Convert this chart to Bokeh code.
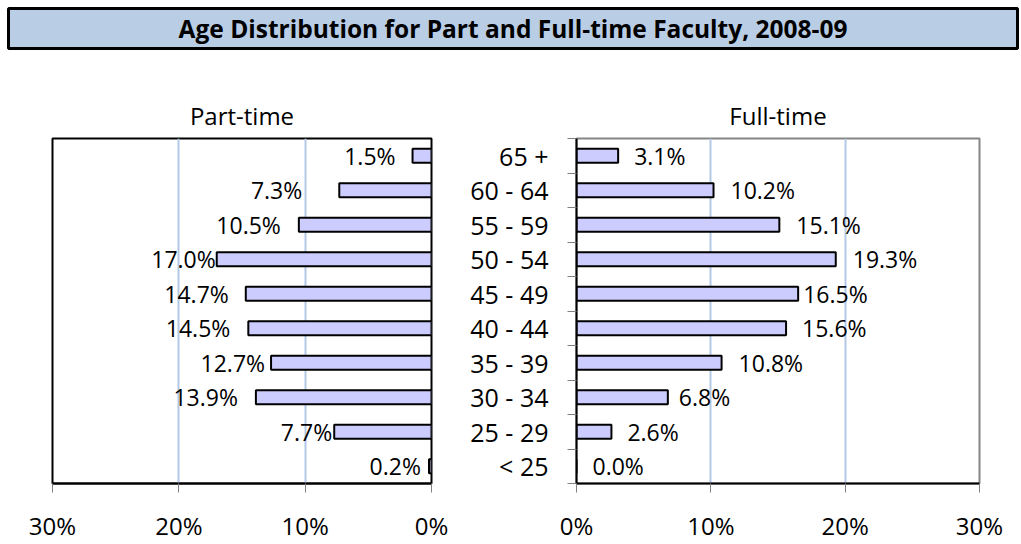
from bokeh.plotting import figure
from bokeh.layouts import column, row
from bokeh.models import Range1d, FixedTicker, PrintfTickFormatter, ColumnDataSource
from bokeh.core.properties import value
from bokeh.embed import file_html
from bokeh.resources import INLINE

# ---------------- data ----------------
title_text = "Age Distribution for Part and Full-time Faculty, 2008-09"
age_groups = ["65 +", "60 - 64", "55 - 59", "50 - 54", "45 - 49",
              "40 - 44", "35 - 39", "30 - 34", "25 - 29", "< 25"]
part_time = [1.5, 7.3, 10.5, 17.0, 14.7, 14.5, 12.7, 13.9, 7.7, 0.2]
full_time = [3.1, 10.2, 15.1, 19.3, 16.5, 15.6, 10.8, 6.8, 2.6, 0.0]
x_ticks = [0, 10, 20, 30]
grid_ticks = [10, 20]

# ---------------- styling ----------------
part_gap = [17, 37, 18, 1, 17, 18, 6, 18, 2, 8]     # label gaps (px)
full_gap = [16, 17, 17, 17, 5, 16, 17, 11, 16, 16]
FONT = value("Open Sans")
BAR_FILL = "#CCCCFF"
GRID = "#B3C8E6"

n = len(age_groups)
pos = [n - i - 0.5 for i in range(n)]
bounds = list(range(n + 1))

def pct(v):
    return "%.1f%%" % v

part_src = ColumnDataSource(dict(y=pos, v=part_time, lab=[pct(v) for v in part_time],
                                 off=[-g for g in part_gap]))
full_src = ColumnDataSource(dict(y=pos, v=full_time, lab=[pct(v) for v in full_time],
                                 off=full_gap))

# ---------------- title box ----------------
tp = figure(width=1021, height=54, x_range=Range1d(0, 1), y_range=Range1d(0, 1),
            x_axis_location=None, y_axis_location=None,
            toolbar_location=None, output_backend="svg",
            min_border_left=8, min_border_right=4, min_border_top=8, min_border_bottom=6)
tp.grid.visible = False
tp.background_fill_color = "#B9CDE5"
tp.border_fill_color = "white"
tp.outline_line_color = "black"
tp.outline_line_width = 3
tp.text(x=[0.5], y=[0.5], text=[title_text], text_align="center", text_baseline="middle",
        text_font=FONT, text_font_style="bold", text_font_size="24.5px", text_color="black")

def style_common(p):
    p.title.align = "center"
    p.title.text_font = "Open Sans"
    p.title.text_font_style = "normal"
    p.title.text_font_size = "24px"
    p.title.text_color = "black"
    p.title.standoff = 13
    p.ygrid.visible = False
    p.xgrid.ticker = FixedTicker(ticks=grid_ticks)
    p.xgrid.grid_line_color = GRID
    p.xgrid.grid_line_width = 2
    p.xaxis.ticker = FixedTicker(ticks=x_ticks)
    p.xaxis.formatter = PrintfTickFormatter(format="%d%%")
    p.xaxis.major_tick_in = 0
    p.xaxis.major_tick_out = 9
    p.xaxis.major_tick_line_color = "#808080"
    p.xaxis.axis_line_color = "black"
    p.xaxis.axis_line_width = 2
    p.xaxis.major_label_text_font = "Open Sans"
    p.xaxis.major_label_text_font_size = "24px"
    p.xaxis.major_label_text_color = "black"
    p.xaxis.major_label_standoff = 16
    p.border_fill_color = "white"

# ---------------- Part-time ----------------
lp = figure(width=455, height=490, x_range=Range1d(30, 0), y_range=Range1d(0, n),
            y_axis_location=None, toolbar_location=None, output_backend="svg",
            min_border_left=52, min_border_right=24, min_border_top=84, min_border_bottom=56,
            title="Part-time")
style_common(lp)
lp.outline_line_color = "black"
lp.outline_line_width = 2
lp.hbar(y="y", left=0, right="v", height=0.4, source=part_src,
        fill_color=BAR_FILL, line_color="black", line_width=2)
lp.text(x="v", y="y", text="lab", x_offset="off", source=part_src,
        text_align="right", text_baseline="middle", text_font=FONT,
        text_font_size="23px", text_color="black")

# ---------------- Full-time ----------------
rp = figure(width=566, height=490, x_range=Range1d(0, 30), y_range=Range1d(0, n),
            toolbar_location=None, output_backend="svg",
            min_border_left=121, min_border_right=42, min_border_top=82, min_border_bottom=61,
            title="Full-time")
style_common(rp)
rp.outline_line_color = "#868686"
rp.outline_line_width = 2
rp.yaxis.ticker = FixedTicker(ticks=pos, minor_ticks=bounds)
rp.yaxis.major_label_overrides = {p_: g for p_, g in zip(pos, age_groups)}
rp.yaxis.major_tick_in = 0
rp.yaxis.major_tick_out = 0
rp.yaxis.minor_tick_in = 0
rp.yaxis.minor_tick_out = 9
rp.yaxis.minor_tick_line_color = "#808080"
rp.yaxis.axis_line_color = "black"
rp.yaxis.axis_line_width = 2
rp.yaxis.major_label_standoff = 19
rp.yaxis.major_label_text_font = "Open Sans"
rp.yaxis.major_label_text_font_size = "25px"
rp.yaxis.major_label_text_color = "black"
rp.hbar(y="y", left=0, right="v", height=0.4, source=full_src,
        fill_color=BAR_FILL, line_color="black", line_width=2)
rp.text(x="v", y="y", text="lab", x_offset="off", source=full_src,
        text_align="left", text_baseline="middle", text_font=FONT,
        text_font_size="23px", text_color="black")

layout = column(tp, row(lp, rp, spacing=0), spacing=0)
open("out.html", "w").write(file_html(layout, INLINE))
